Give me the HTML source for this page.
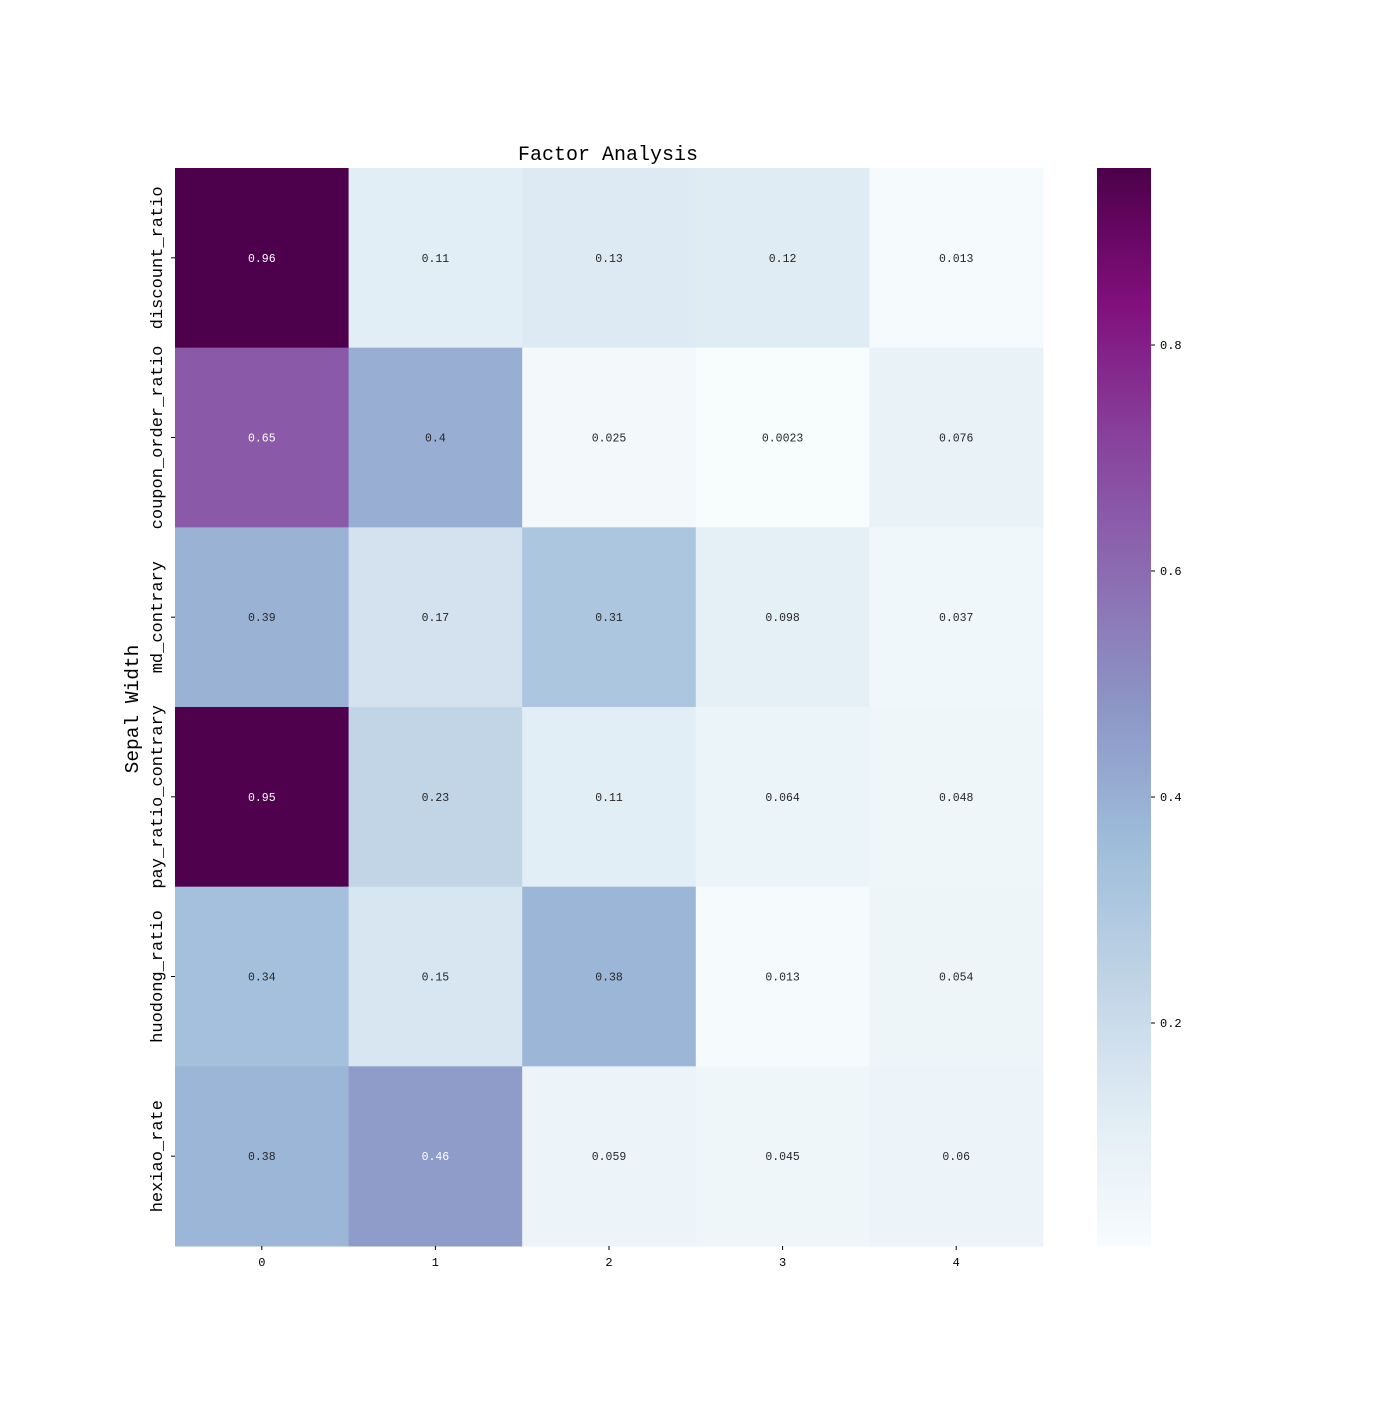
<!DOCTYPE html>
<html><head><meta charset="utf-8"><style>
html,body{margin:0;padding:0;background:#fff;}
text{font-family:"Liberation Mono","DejaVu Sans Mono",monospace;}
</style></head><body>
<svg id="s" width="1400" height="1400" xmlns="http://www.w3.org/2000/svg">
<rect width="1400" height="1400" fill="#fff"/>
<defs><linearGradient id="cb" x1="0" y1="1" x2="0" y2="0">
<stop offset="0" stop-color="#f7fcfd"/><stop offset="0.125" stop-color="#e0ecf4"/>
<stop offset="0.25" stop-color="#bfd3e6"/><stop offset="0.375" stop-color="#9ebcda"/>
<stop offset="0.5" stop-color="#8c96c6"/><stop offset="0.625" stop-color="#8c6bb1"/>
<stop offset="0.75" stop-color="#88419d"/><stop offset="0.875" stop-color="#810f7c"/>
<stop offset="1" stop-color="#4d004b"/></linearGradient></defs>
<g id="hm"></g>
<text x="608" y="160" font-size="20" text-anchor="middle" fill="#000">Factor Analysis</text>
<text transform="translate(138,709) rotate(-90)" font-size="19.5" text-anchor="middle" fill="#000">Sepal Width</text>
<rect x="1097" y="168" width="54" height="1078" fill="url(#cb)"/>
<g font-size="12" fill="#000" stroke="#000">
<line x1="1151" y1="345" x2="1155" y2="345"/><text x="1160" y="349" stroke="none">0.8</text>
<line x1="1151" y1="571" x2="1155" y2="571"/><text x="1160" y="575" stroke="none">0.6</text>
<line x1="1151" y1="797" x2="1155" y2="797"/><text x="1160" y="801" stroke="none">0.4</text>
<line x1="1151" y1="1023" x2="1155" y2="1023"/><text x="1160" y="1027" stroke="none">0.2</text>
</g>
</svg>
<script>
var stops=["#f7fcfd","#e0ecf4","#bfd3e6","#9ebcda","#8c96c6","#8c6bb1","#88419d","#810f7c","#4d004b"];
function hx(c){return [parseInt(c.substr(1,2),16),parseInt(c.substr(3,2),16),parseInt(c.substr(5,2),16)];}
function cmap(v){var vmin=0.0023,vmax=0.957;var t=(v-vmin)/(vmax-vmin);t=Math.max(0,Math.min(1,t));var p=t*8,i=Math.min(7,Math.floor(p)),f=p-i;var a=hx(stops[i]),b=hx(stops[i+1]);return "rgb("+a.map(function(x,k){return Math.round(x+(b[k]-x)*f);}).join(",")+")";}
var data=[["0.96","0.11","0.13","0.12","0.013"],["0.65","0.4","0.025","0.0023","0.076"],["0.39","0.17","0.31","0.098","0.037"],["0.95","0.23","0.11","0.064","0.048"],["0.34","0.15","0.38","0.013","0.054"],["0.38","0.46","0.059","0.045","0.06"]];
var rows=["discount_ratio","coupon_order_ratio","md_contrary","pay_ratio_contrary","huodong_ratio","hexiao_rate"];
var x0=175,y0=168,cw=(1043-175)/5,ch=(1246-168)/6,s="";
for(var r=0;r<6;r++)for(var c=0;c<5;c++){var v=parseFloat(data[r][c]);var x=x0+c*cw,y=y0+r*ch;
s+='<rect x="'+x+'" y="'+y+'" width="'+(cw+0.5)+'" height="'+(ch+0.5)+'" fill="'+cmap(v)+'"/>';
s+='<text x="'+(x+cw/2)+'" y="'+(y+ch/2+4)+'" font-size="11.5" text-anchor="middle" fill="'+(v>0.45?"#fff":"#262626")+'">'+data[r][c]+'</text>';}
for(var c=0;c<5;c++){var x=x0+(c+0.5)*cw;s+='<line x1="'+x+'" y1="1246" x2="'+x+'" y2="1250" stroke="#000"/><text x="'+x+'" y="1266" font-size="12" text-anchor="middle">'+c+'</text>';}
for(var r=0;r<6;r++){var y=y0+(r+0.5)*ch;s+='<line x1="171" y1="'+y+'" x2="175" y2="'+y+'" stroke="#000"/><text transform="translate(162,'+y+') rotate(-90)" font-size="17" text-anchor="middle">'+rows[r]+'</text>';}
document.getElementById("hm").innerHTML=s;
</script>
</body></html>
